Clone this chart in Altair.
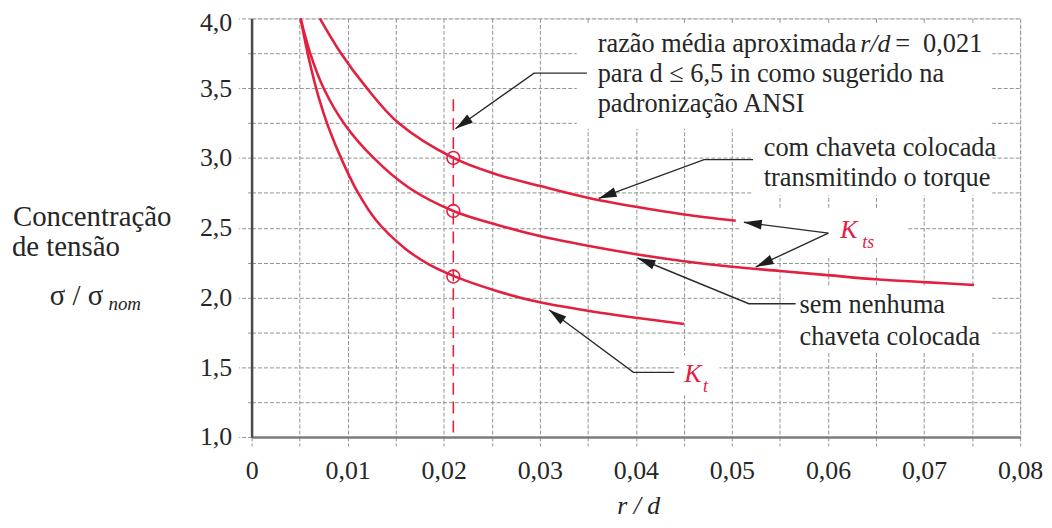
import math
import altair as alt
import pandas as pd

# ---------------- data ----------------
# K_ts, com chaveta colocada transmitindo o torque
kts_key_x = [0.0071, 0.0093, 0.0120, 0.0153, 0.0210, 0.0256, 0.0300, 0.0350, 0.0400, 0.0450, 0.0504]
kts_key_y = [4.00, 3.75, 3.50, 3.25, 3.00, 2.88, 2.80, 2.715, 2.65, 2.595, 2.55]
# K_ts, sem nenhuma chaveta colocada
kts_nokey_x = [0.0051, 0.0061, 0.0075, 0.0097, 0.0127, 0.0163, 0.0210, 0.0256, 0.0300, 0.0350,
               0.0400, 0.0450, 0.0500, 0.0550, 0.0600, 0.0650, 0.0700, 0.0752]
kts_nokey_y = [4.00, 3.75, 3.50, 3.24, 3.00, 2.79, 2.62, 2.52, 2.44, 2.37,
               2.31, 2.26, 2.22, 2.19, 2.16, 2.13, 2.11, 2.09]
# K_t
kt_x = [0.0051, 0.0060, 0.0070, 0.0080, 0.0095, 0.0110, 0.0130, 0.0160, 0.0185, 0.0210,
        0.0256, 0.0300, 0.0350, 0.0400, 0.0450]
kt_y = [4.00, 3.70, 3.43, 3.22, 2.97, 2.76, 2.55, 2.35, 2.235, 2.155,
        2.045, 1.965, 1.905, 1.855, 1.81]

# r/d = 0,021 reference markers
ref_rd = 0.021
ref_y = [3.00, 2.62, 2.15]
ref_line_top = 3.42

x_ticks = [0.0, 0.005, 0.01, 0.015, 0.02, 0.025, 0.03, 0.035, 0.04, 0.045, 0.05,
           0.055, 0.06, 0.065, 0.07, 0.075, 0.08]
y_ticks = [1.0, 1.25, 1.5, 1.75, 2.0, 2.25, 2.5, 2.75, 3.0, 3.25, 3.5, 3.75, 4.0]

# ---------------- layout ----------------
W, H = 773, 421
X_DOM, Y_DOM = [0, 0.08], [1.0, 4.0]
PX_X = W / (X_DOM[1] - X_DOM[0])
PX_Y = H / (Y_DOM[1] - Y_DOM[0])

RED = "#e3203f"
INK = "#262626"
GRID = "#8c9494"
SERIF = "Liberation Serif"

xs = alt.Scale(domain=X_DOM, nice=False, zero=False)
ys = alt.Scale(domain=Y_DOM, nice=False, zero=False)

# ---------------- tables ----------------
rows = []
for name, X_, Y_ in [("kts_key", kts_key_x, kts_key_y),
                     ("kts_nokey", kts_nokey_x, kts_nokey_y),
                     ("kt", kt_x, kt_y)]:
    for i, (a, b) in enumerate(zip(X_, Y_)):
        rows.append({"curve": name, "i": i, "x": a, "y": b})
curves = pd.DataFrame(rows)

refs = pd.DataFrame({"x": [ref_rd] * len(ref_y), "y": ref_y})
ref_line = pd.DataFrame({"x": [ref_rd], "y": [ref_line_top], "y2": [Y_DOM[0]]})

# white boxes behind the annotations (grid hidden there)
boxes = pd.DataFrame({
    "x":  [0.03385, 0.05217, 0.0509, 0.0554, 0.0445],
    "x2": [0.0771, 0.0771, 0.0683, 0.0771, 0.0487],
    "y":  [3.964, 3.210, 2.639, 2.076, 1.584],
    "y2": [3.209, 2.732, 2.283, 1.613, 1.299],
})

# annotation arrows: tail -> elbow -> tip (data units)
arrow_paths = {
    "a1": [(0.0349, 3.608), (0.0294, 3.608), (0.02122, 3.209)],
    "a2": [(0.0522, 2.988), (0.0471, 2.988), (0.03613, 2.710)],
    "a3": [(0.06004, 2.461), (0.05124, 2.539)],
    "a4": [(0.06004, 2.461), (0.05248, 2.2185)],
    "a5": [(0.05663, 1.955), (0.05176, 1.955), (0.04017, 2.283)],
    "a6": [(0.0440, 1.463), (0.03975, 1.463), (0.03095, 1.912)],
}
arr_rows, head_rows = [], []
for k, pts in arrow_paths.items():
    for i, (a, b) in enumerate(pts):
        arr_rows.append({"id": k, "i": i, "x": a, "y": b})
    (x0, y0), (x1, y1) = pts[-2], pts[-1]
    dx = (x1 - x0) * PX_X
    dy = -(y1 - y0) * PX_Y
    ang = math.degrees(math.atan2(dx, -dy)) % 360
    head_rows.append({"x": x1, "y": y1, "angle": ang})
arrows = pd.DataFrame(arr_rows)
heads = pd.DataFrame(head_rows)

txt_normal = pd.DataFrame([
    {"t": "razão média aproximada", "x": 0.036025, "y": 3.7577},
    {"t": "=", "x": 0.06700, "y": 3.7577},
    {"t": "0,021", "x": 0.06990, "y": 3.7577},
    {"t": "para d ≤ 6,5 in como sugerido na", "x": 0.036025, "y": 3.544},
    {"t": "padronização ANSI", "x": 0.036025, "y": 3.330},
    {"t": "com chaveta colocada", "x": 0.053313, "y": 3.0166},
    {"t": "transmitindo o torque", "x": 0.053313, "y": 2.7957},
    {"t": "sem nenhuma", "x": 0.057039, "y": 1.8907},
    {"t": "chaveta colocada", "x": 0.057039, "y": 1.6627},
])
txt_ytitle = pd.DataFrame([
    {"t": "Concentração", "x": -0.02484, "y": 2.5107},
    {"t": "de tensão", "x": -0.02495, "y": 2.2969},
    {"t": "σ / σ", "x": -0.02101, "y": 1.9477},
])
txt_italic = pd.DataFrame([{"t": "r/d", "x": 0.06335, "y": 3.7577}])
txt_sub = pd.DataFrame([{"t": "nom", "x": -0.01490, "y": 1.912}])
txt_k = pd.DataFrame([{"t": "K", "x": 0.061284, "y": 2.4251},
                      {"t": "K", "x": 0.045031, "y": 1.3919}])
txt_ksub = pd.DataFrame([{"t": "ts", "x": 0.063561, "y": 2.3539},
                         {"t": "t", "x": 0.046998, "y": 1.3207}])
txt_xtitle = pd.DataFrame([{"t": "r / d", "x": 0.0403, "y": 0.451}])

# ---------------- axes ----------------
x_axis = alt.Axis(
    values=x_ticks, title=None, grid=True, gridDash=[4, 2], gridColor=GRID, gridWidth=1,
    domainColor="#7c7c7c", domainWidth=2.5,
    ticks=True, tickSize=9, tickDash=[4, 2], tickColor=GRID, tickWidth=1,
    labelExpr="datum.value == 0 ? '0' : (round(datum.value*1000) % 10 == 0 ? replace(format(datum.value, '.2f'), '.', ',') : '')",
    labelFont=SERIF, labelFontSize=26, labelColor=INK, labelPadding=12, labelFlush=False,
    labelOverlap=False,
)
y_axis = alt.Axis(
    values=y_ticks, title=None, grid=True, gridDash=[4, 2], gridColor=GRID, gridWidth=1,
    domainColor="#4a4a4a", domainWidth=2.5,
    ticks=True, tickSize={"condition": {"test": "round(datum.value*100) % 50 == 0", "value": 13}, "value": 6},
    tickDash=[4, 2], tickColor=GRID, tickWidth=1,
    labelExpr="round(datum.value*100) % 50 == 0 ? replace(format(datum.value, '.1f'), '.', ',') : ''",
    labelOffset={"condition": {"test": "datum.value >= 3.99", "value": 4}, "value": 0},
    labelFont=SERIF, labelFontSize=26, labelColor=INK, labelPadding=7, labelFlush=False,
    labelOverlap=False,
)

def X(): return alt.X("x:Q", scale=xs, axis=x_axis)
def Y(): return alt.Y("y:Q", scale=ys, axis=y_axis)

box_layer = alt.Chart(boxes).mark_rect(color="white", opacity=1).encode(
    x=X(), x2="x2:Q", y=Y(), y2="y2:Q")

curve_layer = alt.Chart(curves).mark_line(
    color=RED, strokeWidth=2.6, interpolate="catmull-rom", clip=False
).encode(x=X(), y=Y(), detail="curve:N", order="i:Q")

ref_rule = alt.Chart(ref_line).mark_rule(color=RED, strokeWidth=1.6, strokeDash=[12, 7]).encode(
    x=X(), y=Y(), y2="y2:Q")

ref_pts = alt.Chart(refs).mark_point(shape="circle", filled=False, color=RED, size=165,
                                      strokeWidth=1.6, opacity=1).encode(x=X(), y=Y())

arrow_lines = alt.Chart(arrows).mark_line(color="#2a2a2a", strokeWidth=1.4).encode(
    x=X(), y=Y(), detail="id:N", order="i:Q")

arrow_heads = alt.Chart(heads).mark_point(
    shape="M0,0L-0.55,2L0.55,2Z", filled=True, color="#1e1e1e", size=324, opacity=1, strokeWidth=0
).encode(x=X(), y=Y(), angle=alt.Angle("angle:Q", scale=None))

def text_layer(df, size, color=INK, style="normal", align="left"):
    return alt.Chart(df).mark_text(
        font=SERIF, fontSize=size, color=color, fontStyle=style, align=align,
        baseline="alphabetic"
    ).encode(x=X(), y=Y(), text="t:N")

chart = alt.layer(
    box_layer,
    curve_layer,
    ref_rule,
    ref_pts,
    arrow_lines,
    arrow_heads,
    text_layer(txt_normal, 26.5),
    text_layer(txt_ytitle, 29),
    text_layer(txt_italic, 26, style="italic"),
    text_layer(txt_sub, 19, style="italic"),
    text_layer(txt_k, 26, color=RED, style="italic"),
    text_layer(txt_ksub, 18, color=RED, style="italic"),
    text_layer(txt_xtitle, 26, style="italic", align="center"),
).properties(
    width=W, height=H,
    autosize=alt.AutoSizeParams(type="none"),
    padding={"left": 245, "top": 9, "right": 24, "bottom": 82},
).configure_view(strokeWidth=0, stroke="transparent").configure(background="white")

chart.save("out.html", embed_options={"renderer": "svg", "actions": False})
